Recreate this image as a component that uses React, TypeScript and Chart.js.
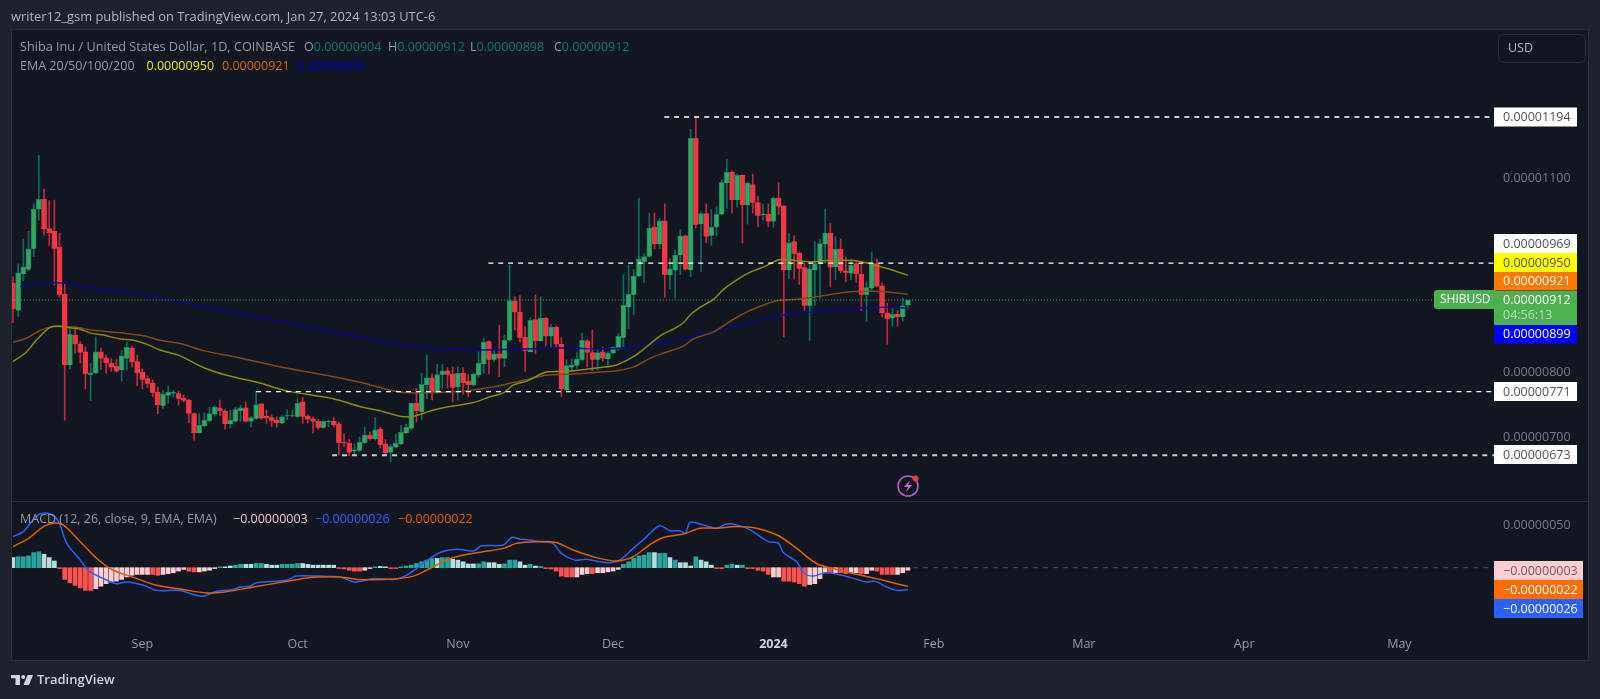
import { useEffect, useRef } from "react";
import { Chart, registerables } from "chart.js";

Chart.register(...registerables);

// Prices and MACD values are in units of 0.00000001 USD.
const opens = [938,896,952,959,991,1052,1067,1022,1018,993,921,812,858,844,832,797,799,832,823,815,810,804,822,838,817,801,791,784,770,749,765,768,768,761,758,737,707,718,726,736,746,741,721,725,741,746,725,729,752,733,731,727,722,733,733,732,755,733,729,725,715,724,725,721,693,691,679,680,692,704,698,713,690,677,685,690,707,714,753,740,781,792,770,797,803,798,778,799,787,781,796,813,848,820,829,822,850,910,893,855,832,882,849,884,856,870,844,773,808,811,820,849,831,820,832,821,830,836,854,901,920,949,971,979,1024,998,1034,950,958,981,1011,958,1161,1029,1045,1011,1024,1044,1092,1109,1066,1104,1058,1090,1062,1043,1044,1033,1069,1057,958,1002,984,962,903,958,968,998,1015,963,990,957,953,968,952,920,930,968,934,892,884,890,886,904];
const highs = [948,968,1006,1018,1060,1135,1083,1065,1066,1015,937,871,871,848,840,814,855,838,827,822,820,834,847,841,827,806,795,789,778,773,780,773,772,766,759,738,737,738,747,749,758,743,742,747,750,755,732,771,752,742,735,732,734,743,742,760,762,735,732,728,726,727,731,724,706,697,690,701,716,709,731,716,697,689,705,719,721,753,776,799,827,798,813,813,808,809,809,808,797,799,832,853,849,836,873,858,966,917,919,871,885,920,917,885,874,872,854,820,821,831,861,851,866,836,839,832,840,860,951,966,959,1069,983,1046,1046,1038,1060,976,989,1021,1012,1175,1194,1048,1060,1051,1056,1097,1129,1111,1106,1105,1094,1106,1072,1060,1060,1071,1093,1057,1015,1011,986,969,969,1002,1006,1052,1030,1010,1006,978,975,973,968,940,986,975,938,907,899,896,915,912];
const lows = [877,887,942,957,979,1035,1012,996,935,916,727,806,830,815,775,757,799,805,799,802,801,787,804,809,780,775,777,763,737,745,753,762,750,755,723,696,707,717,724,733,734,713,715,724,725,724,716,728,728,722,717,716,721,728,732,731,722,723,707,713,714,717,717,673,686,672,673,678,691,696,696,684,674,663,684,689,706,712,724,728,760,758,768,776,776,755,758,767,763,779,793,799,798,817,794,809,848,866,848,802,832,829,849,841,838,839,763,772,802,807,819,809,803,804,817,812,829,835,838,868,889,948,939,978,991,991,916,929,915,951,958,948,1023,956,1000,996,1011,1043,1053,1046,1055,1000,1029,1046,1025,1035,1025,1024,1043,855,945,944,936,896,850,904,915,969,933,943,954,940,943,939,896,879,927,932,886,844,872,872,879,898];
const closes = [898,954,963,991,1052,1067,1021,1015,991,920,812,859,844,831,798,800,832,822,815,808,802,826,839,816,799,789,783,769,750,767,770,770,760,757,737,707,719,727,737,747,741,721,727,743,746,725,731,751,730,730,726,722,732,734,734,753,732,728,725,715,725,725,719,692,692,677,681,693,704,698,712,689,676,686,691,708,716,753,741,782,792,770,797,803,797,777,799,784,781,798,815,847,820,829,822,850,911,893,854,834,881,849,884,856,870,844,775,811,812,821,850,831,820,831,822,830,839,856,904,921,949,975,979,1023,998,1034,951,960,981,1011,959,1161,1028,1045,1010,1024,1044,1093,1109,1066,1104,1058,1092,1062,1042,1044,1033,1069,1056,958,1000,983,960,903,960,968,999,1015,962,990,957,954,966,952,920,931,969,933,892,883,890,886,903,912];

// EMA lines, read as sample points: candle index and value.
const ema20Index = [0,2.6,4.6,7,8.4,10.4,13,15,17.5,20.7,23.3,25.8,28.4,32.3,36.8,41.3,47.7,52.9,61.9,67,71.6,74.8,77.4,80.3,83.2,89,92.2,94.8,96.7,99.3,103,105.7,108.3,113.5,116.7,120,122.5,125.3,127.6,129.6,130.9,132.9,135.4,137.3,139.9,142.5,145.7,148,149.5,154.7,157.3,162.5,165.7,168.3,170.8,173];
const ema20Value = [817,832,851,869,872,870,867,861,858,852,850,844,835,826,808,796,784,772,760,748,740,733,733,740,746,754,763,769,781,787,801,802,803,808,812,825,840,858,867,877,889,901,913,928,943,955,965,974,974,971,973,973,968,962,956,950];
const ema50Index = [0,2.6,5.2,7.8,12.3,14.9,21.3,25.2,28.4,32.9,36.8,42.6,51,60.6,67.7,72.9,76.7,86.4,90.3,94.1,96.7,99.3,103,108.3,113.5,116.7,120,123.1,125.3,129.6,131.5,135.4,139.2,142.5,145,147.6,151.5,155.3,159.2,162.5,167.6,173];
const ema50Value = [847,853,865,871,870,866,861,857,850,844,834,825,810,796,784,773,769,771,775,780,785,789,796,798,801,803,809,822,829,841,852,863,882,896,904,911,913,917,922,925,925,921];
const ema100Index = [1.4,3.9,7.2,12.3,18.1,23.3,29.7,37.4,49,58.7,68.4,74.8,80.6,89,96.7,105.7,116,121.5,129.6,136.7,141.2,148.9,155.3,162.5,170.3,173];
const ema100Value = [933,936,939,936,927,923,913,901,883,868,853,843,838,835,836,838,837,842,853,866,875,889,894,899,901,899];

// MACD lines.
const macdIndex = [0,2,3.9,5.2,7.2,8.8,10.4,13,14.6,17.5,20,22,25.2,27.8,32.3,34.9,36.8,39.4,42.6,43.9,45.8,47,52.9,54.8,59.3,63.2,66,69.7,73.5,75.8,78,80.6,82.9,85.8,89,90.6,94.8,96.4,98,99.9,101.9,104.4,106,108.6,110.9,113.5,115.4,117.3,119.9,122.5,125,127,128.9,130,130.9,133.4,136,137.9,139.9,142.5,146,148,148.9,151.5,152.8,154.7,157,159.2,161.8,165,166.6,168.9,170.8,173];
const macdValue = [37,43,57,64,64,55,29,9,-3.5,-13,-19,-17,-21,-27,-27,-32,-34,-28,-26,-23,-22,-18,-15,-10,-10,-11,-17,-13,-14,-10,-1,11,19,22,20,26,27,36,34,33,31,29,17,9,10,7,6,9,23,37,50,44,44,41,54,51,47,52,51,45,31,29,18,7,-6,-10,-6,-7.5,-11.5,-17,-16,-23,-27,-26];
const signalIndex = [0,3,5.9,7.8,9.7,13,16.2,19.4,23.3,27.8,32.9,37.4,41.3,46.5,54.2,58,63.2,67,73.5,77.4,80.6,83.8,87,90.9,94.8,97.4,101.2,105,108.3,112.8,116.7,119.9,123,125.7,129.6,132.8,136,139.9,143.7,148,151.5,155.3,158.6,161.8,166.9,170.8,173];
const signalValue = [25,35,49,53,51,31,11,-3,-11.5,-21,-26,-30,-28.5,-23,-15,-11.5,-11,-14,-13.5,-10,-1,9,15,19,23,29,31,30,21,12,8,13,27,36,40,47,47,49,47,38,23,5,-1,-6,-13,-19,-22];

const histValue = [12,13,13,14,18,19,16,12,8,-1,-14,-18,-21,-24,-27,-27,-25,-22,-19,-17,-16,-14,-11,-9,-8,-8,-8,-8,-9,-8,-7,-6,-4,-2,-4,-5,-5,-4,-3,-1,1,1,2,3,4,4,4,5,5,4,3,3,4,4,4,5,5,4,3,3,3,3,3,-1,-1.5,-3,-4,-4,-3,-1,1,1.5,1,-1,-1,1,2,3,5,7,9,11,11,12,12,10,9,7,4.5,4.5,4.5,7,6,6,4,4.5,9,9,7,3,4,2,1.5,-1,-1.5,-4,-10,-11,-11,-11,-8,-7,-7,-6,-6,-5,-4,-2,4,7,11,14,15,18,18,17,17,12,9,6,6,2,13,9,7,3,-1,-1,3,4,3,3,-1,-1,-3,-4,-8,-11,-11,-16,-16,-17,-19,-22,-20,-19,-13,-6,-6,-6,-6,-7,-6,-6,-7,-7,-3,-4,-8,-8,-8,-8,-6,-3];
// Histogram shade per bar: d dark teal, l light teal, p pink, r red.
const histShade = "ldddddlllr" + "rrrrrrpppp" + "ppppppprrp" + "pppprrpppp" + "dllddllddl" + "llddddllll" + "lllrrrrrpp" + "dllrrddddd" + "ddlddlllll" + "ddllldddll" + "dldrrrrrrp" + "pprpppppdd" + "ddddlddldl" + "lldlllrrdd" + "ldrrrrrppr" + "rrrrpppprp" + "rrpprpprrr" + "rppp";

const dateTickIndex = [25,55,86,116,147,178,207,238,268];
const dateTickLabel = ["Sep","Oct","Nov","Dec","2024","Feb","Mar","Apr","May"];
const priceTicks = [700,800,1100];
const macdTicks = [50];

const levelValues = [1194,969,771,673];
const levelStarts = [125.9,91.9,47,61.7];
const lastPrice = 912;

const FONT = '"Open Sans", sans-serif';
const SMALL = 12.5;
const fmt = (v: number) => (v < 0 ? "\u2212" : "") + (Math.abs(v) * 1e-8).toFixed(8);

const LEFT = 12, RIGHT_AXIS = 1494, PANEL_RIGHT = 1588, TOP = 30, SPLIT = 501, BOTTOM = 630, PANEL_BOTTOM = 660;
const STEP = 5.173, FIRST = 13;
const PX_PER_PRICE = 0.649, PX_PER_MACD = 0.84;
const yMax = 1194 + (117 - TOP) / PX_PER_PRICE;
const yMin = 1194 - (SPLIT - 117) / PX_PER_PRICE;
const y2Max = (567.7 - SPLIT) / PX_PER_MACD;
const y2Min = -(BOTTOM - 567.7) / PX_PER_MACD;

const points = (xs: number[], ys: number[]) => xs.map((x, i) => ({ x, y: ys[i] }));

const pricePanelPlugin = {
  id: "panelBackground",
  beforeDraw(chart: any) {
    const c = chart.ctx;
    c.save();
    c.fillStyle = "#1e222d";
    c.fillRect(0, 0, 1600, 699);
    c.fillStyle = "#131722";
    c.fillRect(LEFT, TOP, PANEL_RIGHT - LEFT, PANEL_BOTTOM - TOP);
    c.strokeStyle = "#2a2e39";
    c.lineWidth = 1;
    c.strokeRect(LEFT - 0.5, TOP - 0.5, PANEL_RIGHT - LEFT + 1, PANEL_BOTTOM - TOP + 1);
    c.beginPath();
    c.moveTo(LEFT, SPLIT + 0.5);
    c.lineTo(PANEL_RIGHT, SPLIT + 0.5);
    c.stroke();
    c.restore();
  },
};

const tags = [
  { text: fmt(1194), bg: "#ffffff", fg: "#50535e", top: 107.5, h: 19, w: 83 },
  { text: fmt(969), bg: "#ffffff", fg: "#50535e", top: 234, h: 19, w: 83 },
  { text: fmt(950), bg: "#ffff00", fg: "#50535e", top: 253, h: 19, w: 83 },
  { text: fmt(921), bg: "#ff7a00", fg: "#ffffff", top: 272, h: 18.5, w: 83 },
  { text: fmt(899), bg: "#0000ff", fg: "#ffffff", top: 325, h: 18.5, w: 83 },
  { text: fmt(771), bg: "#ffffff", fg: "#50535e", top: 382, h: 19, w: 83 },
  { text: fmt(673), bg: "#ffffff", fg: "#50535e", top: 445, h: 19, w: 83 },
  { text: fmt(-3), bg: "#ffcdd2", fg: "#7a5a5e", top: 561, h: 19, w: 89 },
  { text: fmt(-22), bg: "#ff6d00", fg: "#ffffff", top: 580, h: 19, w: 89 },
  { text: fmt(-26), bg: "#2962ff", fg: "#ffffff", top: 599, h: 19, w: 89 },
];

const textOverlayPlugin = {
  id: "textOverlay",
  afterDraw(chart: any) {
    const c = chart.ctx;
    c.save();
    c.textBaseline = "middle";
    c.textAlign = "left";
    const run = (x: number, y: number, parts: [string, string][], font: string, gap = 0) => {
      c.font = font;
      let px = x;
      for (const [t, col] of parts) {
        c.fillStyle = col;
        c.fillText(t, px, y);
        px += c.measureText(t).width + gap;
      }
    };
    const f12 = `${SMALL}px ${FONT}`;
    const dim = "#9598a1";
    const teal = "#0b7a68";

    c.fillStyle = "#b2b5be";
    c.font = `12.9px ${FONT}`;
    c.fillText("writer12_gsm published on TradingView.com, Jan 27, 2024 13:03 UTC-6", 11, 17);

    c.font = `12.7px ${FONT}`;
    c.fillStyle = dim;
    c.fillText("Shiba Inu / United States Dollar, 1D, COINBASE", 20, 47);
    run(304, 47, [["O", dim], [fmt(opens[173]), teal]], f12);
    run(388, 47, [["H", dim], [fmt(highs[173]), teal]], f12);
    run(470, 47, [["L", dim], [fmt(lows[173]), teal]], f12);
    run(554, 47, [["C", dim], [fmt(closes[173]), teal]], f12);
    c.font = f12;
    c.fillStyle = dim;
    c.fillText("EMA 20/50/100/200", 20, 66);
    c.fillStyle = "#e8e800";
    c.fillText(fmt(950), 146.5, 66);
    c.fillStyle = "#d96a00";
    c.fillText(fmt(921), 222, 66);
    c.fillStyle = "#0000c8";
    c.fillText(fmt(899), 297, 66);

    c.fillStyle = dim;
    c.fillText("MACD (12, 26, close, 9, EMA, EMA)", 20, 519);
    c.fillStyle = "#eec4c8";
    c.fillText(fmt(-3), 233, 519);
    c.fillStyle = "#2962ff";
    c.fillText(fmt(-26), 315, 519);
    c.fillStyle = "#e65c00";
    c.fillText(fmt(-22), 398, 519);

    c.strokeStyle = "#2a2e39";
    c.lineWidth = 1;
    c.beginPath();
    c.roundRect(1498.5, 34.5, 87, 28, 5);
    c.stroke();
    c.fillStyle = "#b2b5be";
    c.fillText("USD", 1508, 48);

    for (const t of tags) {
      c.fillStyle = t.bg;
      c.fillRect(RIGHT_AXIS, t.top, t.w, t.h);
      c.fillStyle = t.fg;
      c.fillText(t.text, 1503, t.top + t.h / 2 + 0.5);
    }
    c.fillStyle = "#4caf50";
    c.fillRect(RIGHT_AXIS, 291, 83, 34);
    c.beginPath();
    c.roundRect(1434, 290, 62, 19, [3, 0, 0, 3]);
    c.fill();
    c.fillStyle = "#ffffff";
    c.fillText(fmt(lastPrice), 1503, 300);
    c.font = `12px ${FONT}`;
    c.fillText("SHIBUSD", 1440, 300);
    c.font = f12;
    c.fillStyle = "#b5dfb7";
    c.fillText("04:56:13", 1503, 315.5);

    // Lightning badge
    c.strokeStyle = "#b05cc8";
    c.lineWidth = 1.6;
    c.beginPath();
    c.arc(908, 486, 10, 0, Math.PI * 2);
    c.stroke();
    c.fillStyle = "#c070d8";
    c.beginPath();
    c.moveTo(910, 480);
    c.lineTo(904, 487);
    c.lineTo(908, 487);
    c.lineTo(906, 492);
    c.lineTo(912, 485);
    c.lineTo(908, 485);
    c.closePath();
    c.fill();
    c.fillStyle = "#f23645";
    c.beginPath();
    c.arc(915.5, 478.5, 3, 0, Math.PI * 2);
    c.fill();

    // TradingView mark
    c.fillStyle = "#d1d4dc";
    c.fillRect(11, 675, 9, 3.2);
    c.fillRect(15.5, 675, 4.5, 10);
    c.beginPath();
    c.arc(23.2, 677, 2, 0, Math.PI * 2);
    c.fill();
    c.beginPath();
    c.moveTo(27.5, 675);
    c.lineTo(33, 675);
    c.lineTo(29, 685);
    c.lineTo(23.5, 685);
    c.closePath();
    c.fill();
    c.font = `600 13px ${FONT}`;
    c.fillText("TradingView", 37, 680.5);
    c.restore();
  },
};

export default function App() {
  const ref = useRef<HTMLCanvasElement | null>(null);

  useEffect(() => {
    document.body.style.margin = "0";
    const idx = opens.map((_, i) => i);
    const up = idx.filter((i) => closes[i] >= opens[i]);
    const down = idx.filter((i) => closes[i] < opens[i]);
    const wick = (list: number[]) => list.map((i) => ({ x: i, y: [lows[i], highs[i]] }));
    const body = (list: number[]) => list.map((i) => ({ x: i, y: [Math.min(opens[i], closes[i]), Math.max(opens[i], closes[i])] }));
    const histFor = (s: string) => idx.filter((i) => histShade[i] === s).map((i) => ({ x: i, y: [0, histValue[i]] }));

    const barBase = { type: "bar", grouped: false, yAxisID: "y", xAxisID: "x" };
    const histBase = { type: "bar", grouped: false, yAxisID: "y2", barThickness: 4, borderWidth: 0, order: 5 };
    const lineBase = { type: "line", pointRadius: 0, tension: 0.3, fill: false };
    const xEnd = (RIGHT_AXIS - FIRST) / STEP;

    const level = (n: number, color: string, width: number) => ({
      ...lineBase,
      yAxisID: "y",
      label: "level " + levelValues[n],
      data: [{ x: levelStarts[n], y: levelValues[n] }, { x: xEnd, y: levelValues[n] }],
      borderColor: color,
      borderWidth: width,
      borderDash: [5, 5],
      order: 1,
    });

    const chart = new Chart(ref.current as HTMLCanvasElement, {
      type: "bar",
      data: {
        datasets: [
          level(0, "#c8c8c8", 2),
          level(1, "#ffffff", 1.2),
          level(2, "#ffffff", 1.2),
          level(3, "#c8c8c8", 2),
          { ...lineBase, yAxisID: "y", label: "last", data: [{ x: -0.2, y: lastPrice }, { x: xEnd, y: lastPrice }], borderColor: "#4caf50", borderWidth: 1, borderDash: [1, 2], order: 2 },
          { ...lineBase, yAxisID: "y", label: "EMA 20", data: points(ema20Index, ema20Value), borderColor: "#8a8a14", borderWidth: 1.5, order: 3 },
          { ...lineBase, yAxisID: "y", label: "EMA 50", data: points(ema50Index, ema50Value), borderColor: "#84481a", borderWidth: 1.5, order: 3 },
          { ...lineBase, yAxisID: "y", label: "EMA 100", data: points(ema100Index, ema100Value), borderColor: "#0a0a8c", borderWidth: 1.5, order: 3 },
          { ...barBase, label: "up wick", data: wick(up), backgroundColor: "#0b6e5c", barThickness: 1, borderWidth: 0, order: 8 },
          { ...barBase, label: "down wick", data: wick(down), backgroundColor: "#c02a3c", barThickness: 1, borderWidth: 0, order: 8 },
          { ...barBase, label: "up body", data: body(up), backgroundColor: "#33a85c", borderColor: "#0c8a70", borderWidth: 1, barThickness: 5, order: 7 },
          { ...barBase, label: "down body", data: body(down), backgroundColor: "#f23645", borderColor: "#f23645", borderWidth: 1, barThickness: 5, order: 7 },
          { ...histBase, label: "hist d", data: histFor("d"), backgroundColor: "#26a69a" },
          { ...histBase, label: "hist l", data: histFor("l"), backgroundColor: "#b2dfdb" },
          { ...histBase, label: "hist p", data: histFor("p"), backgroundColor: "#ffcdd2" },
          { ...histBase, label: "hist r", data: histFor("r"), backgroundColor: "#ff5252" },
          { ...lineBase, yAxisID: "y2", label: "MACD", data: points(macdIndex, macdValue), borderColor: "#2962ff", borderWidth: 1.5, order: 3 },
          { ...lineBase, yAxisID: "y2", label: "Signal", data: points(signalIndex, signalValue), borderColor: "#e65c00", borderWidth: 1.5, order: 2 },
          { ...lineBase, yAxisID: "y2", label: "zero", data: [{ x: 174, y: 0 }, { x: xEnd, y: 0 }], borderColor: "#4a4e5a", borderWidth: 1, borderDash: [5, 5], order: 4 },
        ] as any,
      },
      options: {
        responsive: false,
        animation: false,
        layout: { padding: { left: LEFT, top: TOP, right: 1600 - PANEL_RIGHT, bottom: 699 - PANEL_BOTTOM } },
        plugins: { legend: { display: false }, tooltip: { enabled: false }, title: { display: false } },
        scales: {
          x: {
            type: "linear",
            offset: false,
            min: (LEFT - FIRST) / STEP,
            max: xEnd,
            grid: { display: false, drawTicks: false, offset: false },
            border: { display: false },
            afterBuildTicks: (s: any) => {
              s.ticks = dateTickIndex.map((value) => ({ value }));
            },
            afterFit: (s: any) => {
              s.height = PANEL_BOTTOM - BOTTOM;
            },
            ticks: {
              autoSkip: false,
              maxRotation: 0,
              padding: 7,
              color: (ctx: any) => (ctx.tick?.value === 147 ? "#d1d4dc" : "#9598a1"),
              font: (ctx: any) => ({ family: FONT, size: SMALL, weight: ctx.tick?.value === 147 ? "bold" : "normal" }),
              callback: (v: any) => dateTickLabel[dateTickIndex.indexOf(Number(v))] ?? "",
            },
          },
          y: {
            type: "linear",
            position: "right",
            stack: "panes",
            stackWeight: SPLIT - TOP,
            min: yMin,
            max: yMax,
            grid: { display: false, drawTicks: false },
            border: { display: false },
            afterBuildTicks: (s: any) => {
              s.ticks = priceTicks.map((value) => ({ value }));
            },
            afterFit: (s: any) => {
              s.width = PANEL_RIGHT - RIGHT_AXIS;
            },
            ticks: { padding: 9, color: "#787b86", font: { family: FONT, size: SMALL }, callback: (v: any) => fmt(Number(v)) },
          },
          y2: {
            type: "linear",
            position: "right",
            stack: "panes",
            stackWeight: BOTTOM - SPLIT,
            min: y2Min,
            max: y2Max,
            grid: { display: false, drawTicks: false },
            border: { display: false },
            afterBuildTicks: (s: any) => {
              s.ticks = macdTicks.map((value) => ({ value }));
            },
            afterFit: (s: any) => {
              s.width = PANEL_RIGHT - RIGHT_AXIS;
            },
            ticks: { padding: 9, color: "#787b86", font: { family: FONT, size: SMALL }, callback: (v: any) => fmt(Number(v)) },
          },
        },
      } as any,
      plugins: [pricePanelPlugin, textOverlayPlugin],
    } as any);
    return () => chart.destroy();
  }, []);

  return (
    <div style={{ position: "fixed", left: 0, top: 0, width: 1600, height: 699, background: "#1e222d" }}>
      <canvas ref={ref} width={1600} height={699} style={{ display: "block", width: 1600, height: 699 }} />
    </div>
  );
}
